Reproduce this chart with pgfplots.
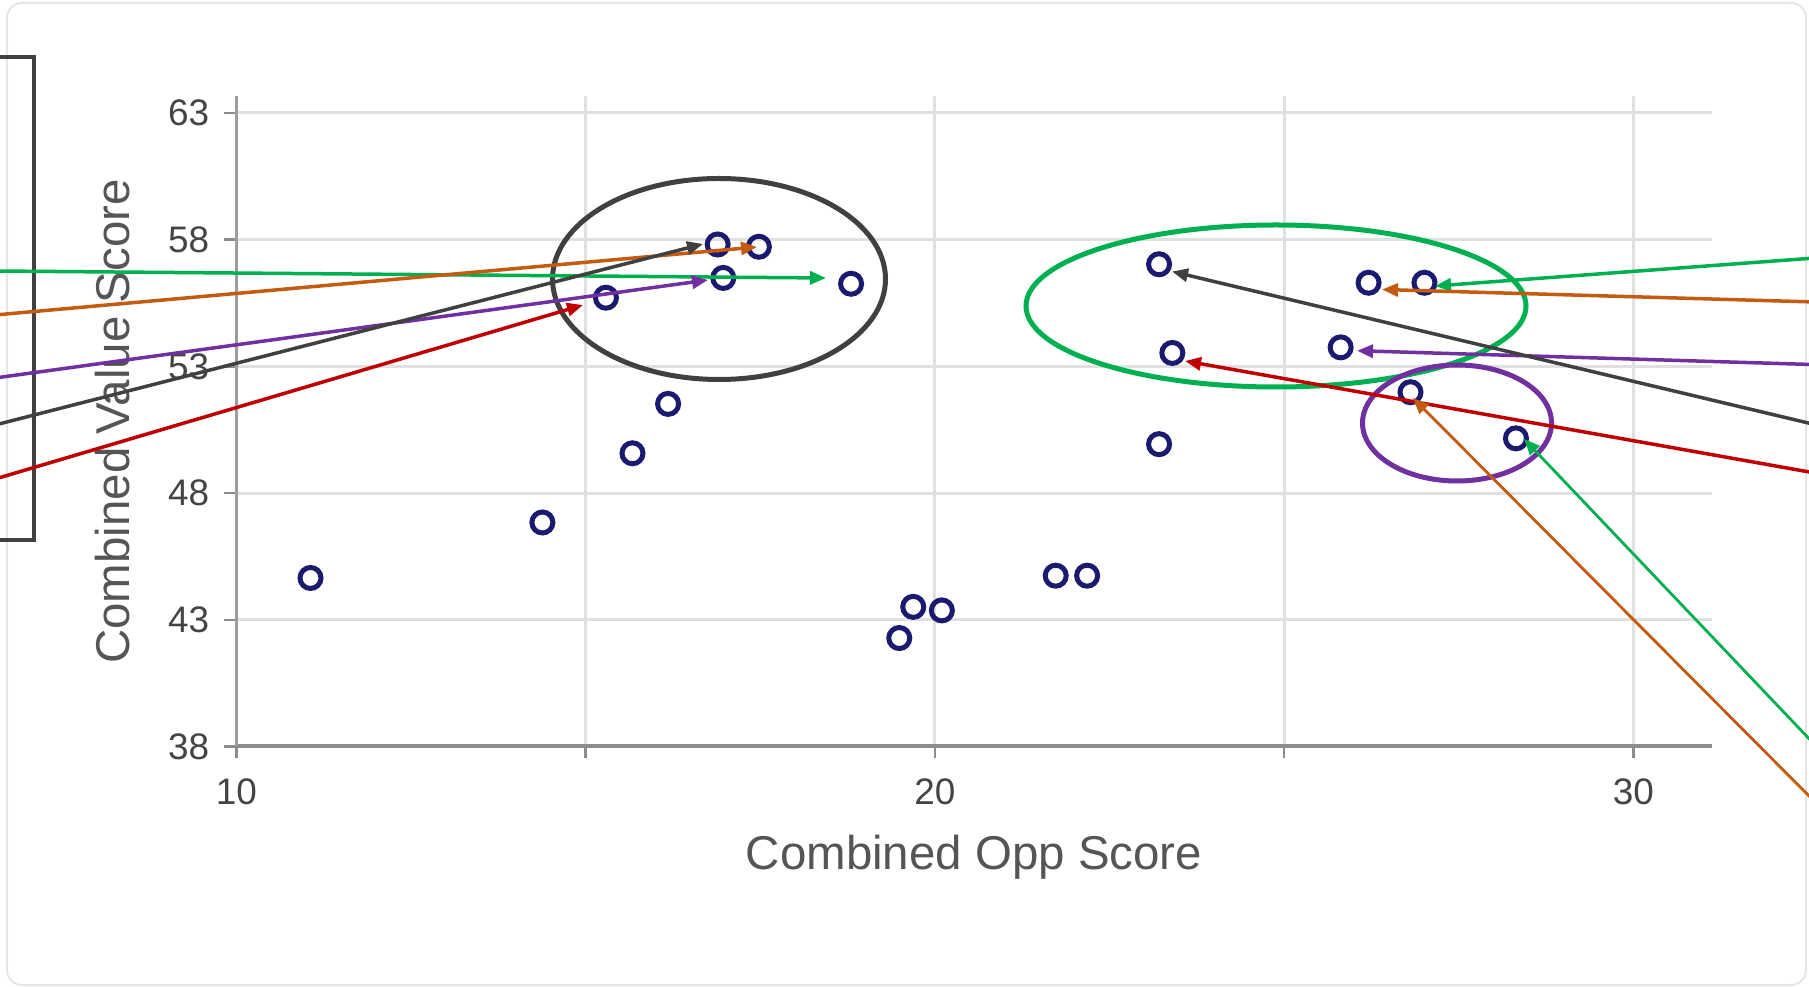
\documentclass[border=0pt]{standalone}
\usepackage{fontspec}
\setmainfont{Liberation Sans}
\usepackage{pgfplots}
\pgfplotsset{compat=1.18}
\usetikzlibrary{arrows.meta}

\definecolor{markblue}{RGB}{26,26,110}
\definecolor{gridgray}{RGB}{224,224,224}
\definecolor{axisgray}{RGB}{140,140,140}
\definecolor{ticktext}{RGB}{68,68,68}
\definecolor{labeltext}{RGB}{85,85,85}
\definecolor{anngray}{RGB}{64,64,64}
\definecolor{anngreen}{RGB}{0,176,80}
\definecolor{annorange}{RGB}{197,90,17}
\definecolor{annpurple}{RGB}{112,48,160}
\definecolor{annred}{RGB}{192,0,0}

\begin{document}
\begin{tikzpicture}
\useasboundingbox (0,0) rectangle (180.9mm,98.7mm);
\clip (0,0) rectangle (180.9mm,98.7mm);

\begin{axis}[
    at={(23.65mm,24.05mm)}, anchor=south west,
    scale only axis, width=147.5mm, height=65.0mm,
    xmin=10, xmax=31.12, ymin=38, ymax=63.65,
    axis lines*=left,
    x axis line style={axisgray, line width=0.4mm},
    y axis line style={axisgray!85, line width=0.25mm},
    xtick={10,15,20,25,30}, xticklabels={10,,20,,30},
    ytick={38,43,48,53,58,63},
    tick align=outside, major tick length=1.2mm,
    tick style={axisgray, line width=0.25mm},
    grid=major, major grid style={gridgray, line width=0.3mm},
    /pgf/number format/assume math mode=true,
    ticklabel style={font=\fontsize{10.5}{12}\selectfont, text=ticktext},
    xticklabel style={yshift=-0.8mm},
    yticklabel style={xshift=-0.3mm},
    xlabel={Combined Opp Score}, ylabel={Combined Value Score},
    label style={font=\fontsize{13.5}{16}\selectfont, text=labeltext},
    xlabel style={at={(axis description cs:0.5,-0.171)}, anchor=center},
    ylabel style={at={(axis description cs:-0.0843,0.5)}, anchor=center},
]
\addplot[only marks, mark=o, mark size=1.05mm,
    mark options={line width=0.5mm, draw=markblue}] coordinates {
    (11.06,44.65) (14.38,46.84) (15.29,55.71) (15.67,49.57) (16.18,51.52)
    (16.89,57.81) (17.48,57.72) (16.97,56.49) (18.80,56.26)
    (19.49,42.28) (19.69,43.51) (20.10,43.37) (21.73,44.74) (22.18,44.74)
    (23.21,57.03) (23.40,53.53) (23.21,49.93) (25.81,53.75)
    (26.21,56.30) (27.01,56.30) (26.81,51.98) (28.32,50.16)
};
\end{axis}

% annotations, in pixels of the 1809x987 frame, origin top left
\begin{scope}[x=0.1mm, y=-0.1mm, yshift=98.7mm,
    arr/.style={line width=0.35mm, -{Triangle[length=1.6mm, width=1.3mm]}}]
  \draw[gridgray!80, line width=0.2mm, rounded corners=1.5mm] (7,3) rectangle (1806,985);
  \draw[anngray, line width=0.4mm] (-20,57) rectangle (34,540);
  % ellipses
  \draw[anngray, line width=0.5mm] (719,279) ellipse [x radius=16.65mm, y radius=10.05mm];
  \draw[anngreen, line width=0.5mm] (1276,306) ellipse [x radius=25mm, y radius=8.1mm];
  \draw[annpurple, line width=0.5mm] (1457,423) ellipse [x radius=9.45mm, y radius=5.8mm];
  % arrows from the left
  \draw[arr, anngreen] (-5,271) -- (826,278);
  \draw[arr, annorange] (-5,315) -- (757,247);
  \draw[arr, annpurple] (-5,378) -- (708,280);
  \draw[arr, anngray] (-5,425) -- (703,244);
  \draw[arr, annred] (-5,479) -- (583,305);
  % arrows from the right
  \draw[arr, anngreen] (1815,258) -- (1435,286);
  \draw[arr, annorange] (1815,302) -- (1382,289.5);
  \draw[arr, annpurple] (1815,364.6) -- (1357,350.7);
  \draw[arr, anngray] (1815,424.6) -- (1172,271.5);
  \draw[arr, annred] (1815,473) -- (1185,361);
  \draw[arr, anngreen, line width=0.28mm] (1815,745) -- (1524,439);
  \draw[arr, annorange, line width=0.28mm] (1815,802) -- (1413,398);
\end{scope}
\end{tikzpicture}
\end{document}
